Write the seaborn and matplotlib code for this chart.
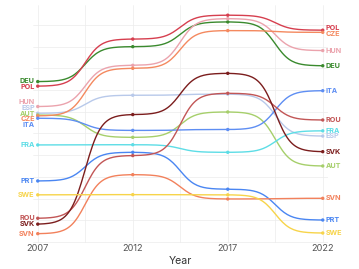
import numpy as np
import pandas as pd
import matplotlib
matplotlib.use("Agg")
from matplotlib import pyplot as plt
import seaborn as sns

# Data (arbitrary index scale, higher = further up)
years = [2007, 2012, 2017, 2022]
countries = ["DEU", "POL", "HUN", "ESP", "AUT", "CZE", "ITA",
             "FRA", "PRT", "ROU", "SVK", "SVN", "SWE"]
deu = [73.9, 90.0, 101.4, 81.2]
pol = [71.8, 93.5, 104.5, 97.6]
hun = [62.4, 81.4, 102.9, 88.2]
esp = [59.3, 67.6, 68.1, 48.8]
aut = [58.5, 48.2, 59.9, 35.0]
cze = [58.1, 80.0, 97.4, 96.6]
ita = [57.0, 51.4, 51.8, 69.7]
fra = [44.7, 44.8, 41.3, 51.2]
prt = [28.1, 41.3, 24.3, 10.1]
rou = [10.9, 39.8, 68.5, 56.2]
svk = [8.2, 58.7, 77.7, 41.6]
svn = [3.8, 31.0, 19.8, 20.1]
swe = [21.7, 21.8, 21.7, 4.1]
values = [deu, pol, hun, esp, aut, cze, ita, fra, prt, rou, svk, svn, swe]

colors = {
    "DEU": "#3a8a2e", "POL": "#d63f4f", "HUN": "#eba3ad", "ESP": "#b8c9ea",
    "AUT": "#a6cf6b", "CZE": "#f4895f", "ITA": "#5e8ef3", "FRA": "#5ddde6",
    "PRT": "#4a86f2", "ROU": "#c25656", "SVK": "#7b1d1d", "SVN": "#f2815c",
    "SWE": "#f7d44a",
}

points = pd.DataFrame(
    [(c, y, v) for c, vals in zip(countries, values) for y, v in zip(years, vals)],
    columns=["country", "Year", "value"],
)


def bump_curve(xs, ys, n=60, smooth=6):
    # sigmoid segments between consecutive points (bump chart style)
    out_x, out_y = [], []
    t = np.linspace(-smooth, smooth, n)
    s = 1 / (1 + np.exp(-t))
    s = (s - s[0]) / (s[-1] - s[0])
    for i in range(len(xs) - 1):
        out_x.extend(xs[i] + (xs[i + 1] - xs[i]) * np.linspace(0, 1, n))
        out_y.extend(ys[i] + (ys[i + 1] - ys[i]) * s)
    return out_x, out_y


curves = []
for c, vals in zip(countries, values):
    cx, cy = bump_curve(years, vals)
    curves.append(pd.DataFrame({"country": c, "Year": cx, "value": cy}))
curves = pd.concat(curves, ignore_index=True)


def spread(ys, gap):
    # push label positions apart so they don't overlap
    order = np.argsort(ys)
    pos = np.array(ys, dtype=float)[order]
    for _ in range(200):
        moved = False
        for i in range(1, len(pos)):
            d = pos[i] - pos[i - 1]
            if d < gap:
                shift = (gap - d) / 2
                pos[i - 1] -= shift
                pos[i] += shift
                moved = True
        if not moved:
            break
    res = np.empty_like(pos)
    res[order] = pos
    return res


sns.set_theme(style="whitegrid")
plt.rcParams["font.family"] = ["Inter", "DejaVu Sans"]

fig = plt.figure(figsize=(3.59, 2.69), dpi=100)
ax = fig.add_axes([33 / 359, 26 / 269, 294.5 / 359, 238 / 269])

sns.lineplot(data=curves, x="Year", y="value", hue="country", units="country",
             estimator=None, palette=colors, linewidth=1.0, legend=False,
             sort=False, ax=ax)
sns.scatterplot(data=points, x="Year", y="value", hue="country", palette=colors,
                s=6, linewidth=0, legend=False, ax=ax, zorder=3)

left_vals = [v[0] for v in values]
right_vals = [v[-1] for v in values]
left_pos = spread(left_vals, 2.6)
right_pos = spread(right_vals, 2.6)
for c, yl, yr in zip(countries, left_pos, right_pos):
    ax.text(years[0] - 0.16, yl, c, color=colors[c], fontsize=5.2,
            fontweight="bold", ha="right", va="center", clip_on=False)
    ax.text(years[-1] + 0.16, yr, c, color=colors[c], fontsize=5.2,
            fontweight="bold", ha="left", va="center", clip_on=False)

ax.set_xlim(2006.75, 2022.25)
ax.set_ylim(-0.5, 109.2)
ax.set_xticks(years)
ax.set_xticks([2009.5, 2014.5, 2019.5], minor=True)
ax.set_yticks(np.arange(0, 101, 10))
ax.set_yticklabels([])
ax.grid(True, which="both", color="#ececec", linewidth=0.5)
ax.tick_params(axis="x", labelsize=6.6, colors="#555555", pad=1, length=0)
ax.tick_params(axis="y", length=0)
ax.set_xlabel("Year", fontsize=7.6, color="#333333", labelpad=2)
ax.set_ylabel("")
for sp in ax.spines.values():
    sp.set_visible(False)

fig.savefig("out.png", dpi=100)
plt.close(fig)
